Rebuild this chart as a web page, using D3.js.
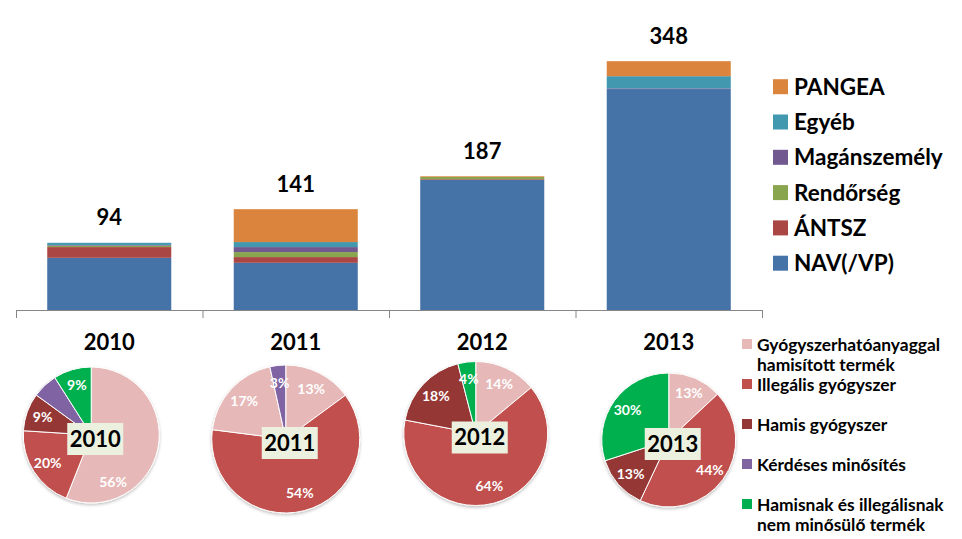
<!DOCTYPE html>
<html lang="hu">
<head>
<meta charset="UTF-8">
<title>Bejelentések forrás és típus szerint</title>
<script src="https://d3js.org/d3.v7.min.js"></script>
<style>
  body { margin: 0; background: #fff; }
  svg text { font-family: Lato, "Liberation Sans", Arial, sans-serif; font-weight: bold; }
</style>
</head>
<body>
<svg width="962" height="539"></svg>
<script>
// ---- data: stacked bars (cases by reporting source)
const years = ["2010", "2011", "2012", "2013"];
const sources = ["NAV(/VP)", "ÁNTSZ", "Rendőrség", "Magánszemély", "Egyéb", "PANGEA"];
const navVp        = [73, 66, 182, 309];
const antsz        = [15, 8, 1, 0];
const rendorseg    = [2, 7, 3, 0];
const maganszemely = [1, 7, 0, 1];
const egyeb        = [3, 7, 0, 17];
const pangea       = [0, 46, 1, 21];

// ---- data: pies (share by product type, %)
const types = [
  "Gyógyszerhatóanyaggal\nhamisított termék",
  "Illegális gyógyszer",
  "Hamis gyógyszer",
  "Kérdéses minősítés",
  "Hamisnak és illegálisnak\nnem minősülő termék"
];
const share2010 = [56, 20, 9, 6, 9];
const share2011 = [13, 54, 17, 3, 0];
const share2012 = [14, 64, 18, 0, 4];
const share2013 = [13, 44, 13, 0, 30];

// ---- styles
const sourceColors = ["#4572A7", "#AA4643", "#89A54E", "#71588F", "#4198AF", "#DB843D"];
const typeColors = ["#E6B9B8", "#C0504D", "#953735", "#8064A2", "#00B050"];
const sliceColorFix = { "2011": { 2: "#E6B9B8" } };   // in the original the 2011 "Hamis" slice is pink
const hiddenLabels = { "2010": [3] };
const labelAngleFix = { "2010": { 0: 155 } };          // degrees, clockwise from 12 o'clock

// pie placement relative to the category band centre
const pieLayout = [
  { dx: -18, cy: 435, r: 68 },
  { dx: -10, cy: 439, r: 74 },
  { dx: -6.5, cy: 433.5, r: 72 },
  { dx: 0, cy: 440, r: 67 }
];

const svg = d3.select("svg");

// shadow under the pies
svg.append("defs").append("filter")
    .attr("id", "shadow").attr("x", "-20%").attr("y", "-20%").attr("width", "140%").attr("height", "140%")
  .append("feDropShadow")
    .attr("dx", 0).attr("dy", 1.5).attr("stdDeviation", 1.5)
    .attr("flood-color", "#000").attr("flood-opacity", 0.25);

// ---- bar chart
const x = d3.scaleBand().domain(years).range([16, 762]).paddingInner(0.335).paddingOuter(0.1675);
const y = d3.scaleLinear().domain([0, 400]).range([310, 24]);

const rows = years.map((yr, i) => ({
  year: yr,
  "NAV(/VP)": navVp[i],
  "ÁNTSZ": antsz[i],
  "Rendőrség": rendorseg[i],
  "Magánszemély": maganszemely[i],
  "Egyéb": egyeb[i],
  "PANGEA": pangea[i]
}));
const stacked = d3.stack().keys(sources)(rows);

svg.append("g")
  .selectAll("g")
  .data(stacked)
  .join("g")
    .attr("fill", (d, i) => sourceColors[i])
  .selectAll("rect")
  .data(d => d)
  .join("rect")
    .attr("x", d => x(d.data.year))
    .attr("width", x.bandwidth())
    .attr("y", d => y(d[1]))
    .attr("height", d => y(d[0]) - y(d[1]));

// totals above bars
svg.append("g")
  .selectAll("text")
  .data(rows)
  .join("text")
    .attr("x", d => x(d.year) + x.bandwidth() / 2)
    .attr("y", d => y(d3.sum(sources, k => d[k])) - 25)
    .attr("dy", "0.35em")
    .attr("text-anchor", "middle")
    .attr("font-size", 22)
    .attr("fill", "#000")
    .text(d => d3.sum(sources, k => d[k]));

// category axis with ticks between categories
const tickScale = d3.scaleLinear().domain([0, years.length]).range([16, 762]);
svg.append("g")
    .attr("transform", "translate(0,310)")
    .call(d3.axisBottom(tickScale).tickValues(d3.range(years.length + 1)).tickSize(8).tickSizeOuter(0).tickFormat(""))
    .call(g => g.selectAll("path, line").attr("stroke", "#868686"));

// legend for sources (reverse order)
const barLegend = svg.append("g")
  .selectAll("g")
  .data(sources.map((s, i) => ({ s, c: sourceColors[i] })).reverse())
  .join("g")
    .attr("transform", (d, i) => `translate(773,${86.7 + i * 35.3})`);
barLegend.append("rect")
    .attr("y", -7.5).attr("width", 15).attr("height", 15)
    .attr("fill", d => d.c);
barLegend.append("text")
    .attr("x", 21).attr("dy", "0.36em")
    .attr("font-size", 22.5)
    .text(d => d.s);

// ---- pies
const shares = [share2010, share2011, share2012, share2013];
const pie = d3.pie().sort(null).value(d => d.v);

years.forEach((yr, yi) => {
  const lay = pieLayout[yi];
  const cx = x(yr) + x.bandwidth() / 2 + lay.dx;
  const cy = lay.cy;
  const arc = d3.arc().innerRadius(0).outerRadius(lay.r);
  const slices = pie(shares[yi].map((v, i) => ({ v, i }))).filter(d => d.data.v > 0);

  // year title above pie
  svg.append("text")
    .attr("x", x(yr) + x.bandwidth() / 2)
    .attr("y", 342).attr("dy", "0.35em")
    .attr("text-anchor", "middle")
    .attr("font-size", 22)
    .text(yr);

  const g = svg.append("g").attr("transform", `translate(${cx},${cy})`);

  g.append("g")
    .attr("filter", "url(#shadow)")
    .selectAll("path")
    .data(slices)
    .join("path")
      .attr("d", arc)
      .attr("fill", d => (sliceColorFix[yr] && sliceColorFix[yr][d.data.i]) || typeColors[d.data.i])
      .attr("stroke", "#fff")
      .attr("stroke-width", 1);

  const hidden = hiddenLabels[yr] || [];
  g.append("g")
    .selectAll("text")
    .data(slices.filter(d => !hidden.includes(d.data.i)))
    .join("text")
      .attr("transform", d => {
        const fix = labelAngleFix[yr] && labelAngleFix[yr][d.data.i];
        const a = fix !== undefined ? fix * Math.PI / 180 : (d.startAngle + d.endAngle) / 2;
        const rr = lay.r * 0.76;
        return `translate(${Math.sin(a) * rr},${-Math.cos(a) * rr})`;
      })
      .attr("dy", "0.35em")
      .attr("text-anchor", "middle")
      .attr("font-size", 14)
      .attr("fill", "#fff")
      .text(d => d.data.v + "%");

  // year box in the middle of the pie
  const box = g.append("g").attr("transform", "translate(4,4)");
  box.append("rect")
    .attr("x", -28).attr("y", -16).attr("width", 56).attr("height", 32)
    .attr("fill", "#EBF1DE");
  box.append("text")
    .attr("dy", "0.36em")
    .attr("text-anchor", "middle")
    .attr("font-size", 22)
    .text(yr);
});

// legend for product types
const pieLegend = svg.append("g")
  .selectAll("g")
  .data(types.map((t, i) => ({ t, c: typeColors[i] })))
  .join("g")
    .attr("transform", (d, i) => `translate(742,${345 + i * 40})`);
pieLegend.append("rect")
    .attr("y", -6).attr("width", 10).attr("height", 10)
    .attr("fill", d => d.c);
pieLegend.append("text")
    .attr("x", 15)
    .attr("font-size", 17.4)
  .selectAll("tspan")
  .data(d => d.t.split("\n"))
  .join("tspan")
    .attr("x", 15)
    .attr("y", (d, i) => i * 20)
    .attr("dy", "0.35em")
    .text(d => d);
</script>
</body>
</html>
